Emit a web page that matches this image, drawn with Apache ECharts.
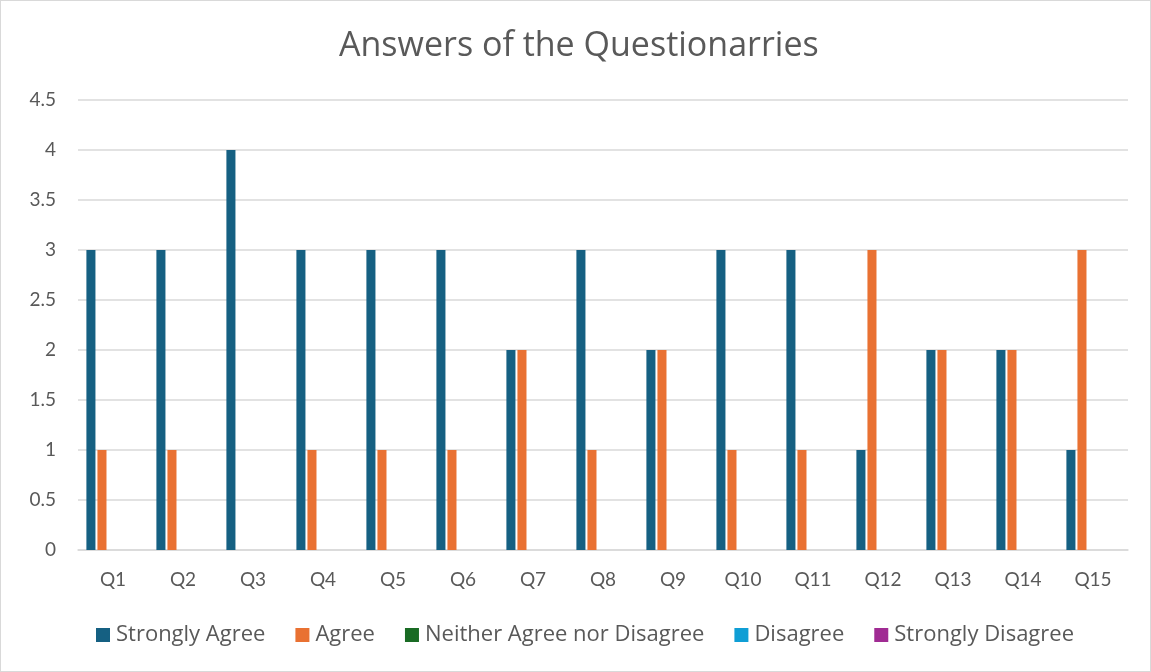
<!DOCTYPE html>
<html>
<head>
<meta charset="utf-8">
<script src="https://cdn.jsdelivr.net/npm/echarts@6/dist/echarts.min.js"></script>
<style>
html,body{margin:0;padding:0;background:#fff;}
#c{width:1149px;height:670px;border:1px solid #d9d9d9;}
</style>
</head>
<body>
<div id="c"></div>
<script>
const categories = ['Q1','Q2','Q3','Q4','Q5','Q6','Q7','Q8','Q9','Q10','Q11','Q12','Q13','Q14','Q15'];
const seriesNames = ['Strongly Agree','Agree','Neither Agree nor Disagree','Disagree','Strongly Disagree'];
const stronglyAgree = [3,3,4,3,3,3,2,3,2,3,3,1,2,2,1];
const agree = [1,1,0,1,1,1,2,1,2,1,1,3,2,2,3];
const neither = [0,0,0,0,0,0,0,0,0,0,0,0,0,0,0];
const disagree = [0,0,0,0,0,0,0,0,0,0,0,0,0,0,0];
const stronglyDisagree = [0,0,0,0,0,0,0,0,0,0,0,0,0,0,0];
const colors = ['#156082','#E97132','#196B24','#0F9ED5','#A02B93'];
const values = [stronglyAgree, agree, neither, disagree, stronglyDisagree];

const font = 'Lato, "Open Sans", sans-serif';
const wideFont = '"Open Sans", Lato, sans-serif';
const chart = echarts.init(document.getElementById('c'));
chart.setOption({
  animation: false,
  color: colors,
  title: {
    text: 'Answers of the Questionarries',
    left: 333, top: 23,
    textStyle: {fontFamily: wideFont, fontSize: 34, fontWeight: 'normal', color: '#595959'}
  },
  grid: {left: 77, right: 22, top: 99, bottom: 121, containLabel: false},
  legend: {
    bottom: 20, left: 90,
    itemWidth: 14, itemHeight: 14, itemGap: 30,
    icon: 'rect',
    textStyle: {fontFamily: wideFont, fontSize: 22, color: '#595959', padding: [0,0,0,1]},
    data: seriesNames
  },
  xAxis: {
    type: 'category', data: categories,
    axisLine: {lineStyle: {color: '#d9d9d9', width: 1.5}},
    axisTick: {show: false},
    axisLabel: {fontFamily: font, fontSize: 19, color: '#595959', margin: 20}
  },
  yAxis: {
    type: 'value', min: 0, max: 4.5, interval: 0.5,
    axisLine: {show: false}, axisTick: {show: false},
    splitLine: {lineStyle: {color: '#d9d9d9', width: 1.5}},
    axisLabel: {fontFamily: font, fontSize: 19, color: '#595959', margin: 22, align: 'right'}
  },
  series: seriesNames.map((n, i) => ({
    name: n, type: 'bar', data: values[i],
    barGap: '22%', barCategoryGap: '24%',
    itemStyle: {color: colors[i]}
  }))
});
</script>
</body>
</html>
